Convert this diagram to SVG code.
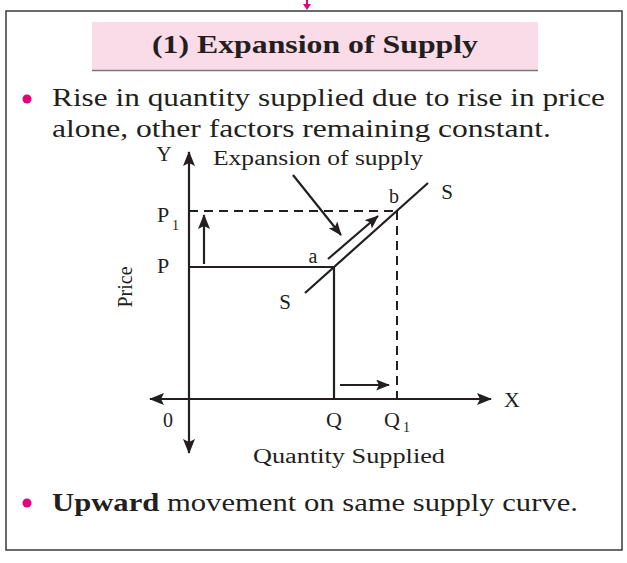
<svg xmlns="http://www.w3.org/2000/svg" width="627" height="563" viewBox="0 0 627 563">
<defs>
<style>
.t{font-family:"Liberation Serif","Times New Roman",serif;fill:#231f20}
.ln{stroke:#231f20;stroke-width:2.2;fill:none}
.ds{stroke:#231f20;stroke-width:2;fill:none;stroke-dasharray:9,6}
</style>
<marker id="ahb" viewBox="0 0 15 12" refX="14" refY="6" markerWidth="15" markerHeight="12" markerUnits="userSpaceOnUse" orient="auto">
<path d="M0,0 L15,6 L0,12 L3,6 z" fill="#231f20"/>
</marker>
<marker id="ahs" viewBox="0 0 15 12" refX="14" refY="6" markerWidth="14" markerHeight="11" markerUnits="userSpaceOnUse" orient="auto">
<path d="M0,0 L15,6 L0,12 L3,6 z" fill="#231f20"/>
</marker>
</defs>
<rect width="627" height="563" fill="#fff"/>
<path d="M307,0 L307,6" stroke="#e6007e" stroke-width="2"/>
<path d="M303,4 L307,10 L311,4 z" fill="#e6007e"/>
<rect x="6" y="11" width="616" height="539" fill="none" stroke="#3a3a3a" stroke-width="1.5"/>
<g id="title">
<rect x="92" y="22" width="446" height="48" fill="#fadce8"/>
<line x1="92" y1="70.5" x2="538" y2="70.5" stroke="#777" stroke-width="1.5"/>
<text class="t" x="315" y="53" font-size="25" font-weight="bold" text-anchor="middle" textLength="326" lengthAdjust="spacingAndGlyphs">(1) Expansion of Supply</text>
</g>
<g id="bullet1">
<circle cx="27" cy="99" r="4.5" fill="#e6007e"/>
<text class="t" x="52" y="106" font-size="26" textLength="553" lengthAdjust="spacingAndGlyphs">Rise in quantity supplied due to rise in price</text>
<text class="t" x="52" y="137" font-size="26" textLength="499" lengthAdjust="spacingAndGlyphs">alone, other factors remaining constant.</text>
</g>
<g id="connectors">
<line class="ln" x1="189" y1="400" x2="189" y2="152" marker-end="url(#ahb)"/>
<line class="ln" x1="189" y1="398" x2="189" y2="453" marker-end="url(#ahb)"/>
<line class="ln" x1="189" y1="399" x2="491" y2="399" marker-end="url(#ahb)"/>
<line class="ln" x1="191" y1="399" x2="150" y2="399" marker-end="url(#ahb)"/>
<line class="ds" x1="189" y1="211" x2="397" y2="211"/>
<line class="ds" x1="397" y1="211" x2="397" y2="399"/>
<line class="ln" x1="189" y1="267" x2="334" y2="267"/>
<line class="ln" x1="334" y1="267" x2="334" y2="399"/>
<line class="ln" x1="305" y1="293" x2="428" y2="183"/>
<line class="ln" x1="328" y1="259" x2="378" y2="216" marker-end="url(#ahs)"/>
<line class="ln" x1="293" y1="175" x2="341" y2="235" marker-end="url(#ahs)"/>
<line class="ln" x1="204" y1="264" x2="204" y2="215" marker-end="url(#ahb)"/>
<line class="ln" x1="340" y1="385" x2="389" y2="385" marker-end="url(#ahs)"/>
</g>
<g id="labels">
<text class="t" x="164" y="161" font-size="21" text-anchor="middle">Y</text>
<text class="t" x="213" y="165" font-size="20" textLength="210" lengthAdjust="spacingAndGlyphs">Expansion of supply</text>
<text class="t" x="157" y="222" font-size="22">P</text>
<text class="t" x="172" y="230" font-size="14">1</text>
<text class="t" x="157" y="273" font-size="22">P</text>
<text class="t" x="313" y="263" font-size="20" text-anchor="middle">a</text>
<text class="t" x="394" y="203" font-size="20" text-anchor="middle">b</text>
<text class="t" x="447" y="199" font-size="21" text-anchor="middle">S</text>
<text class="t" x="285" y="309" font-size="21" text-anchor="middle">S</text>
<text class="t" x="132" y="287" font-size="20" text-anchor="middle" transform="rotate(-90 132 287)">Price</text>
<text class="t" x="168" y="427" font-size="20" text-anchor="middle">0</text>
<text class="t" x="334" y="427" font-size="22" text-anchor="middle">Q</text>
<text class="t" x="392" y="427" font-size="22" text-anchor="middle">Q</text>
<text class="t" x="403" y="432" font-size="14">1</text>
<text class="t" x="512" y="407" font-size="22" text-anchor="middle">X</text>
<text class="t" x="349" y="463" font-size="20" text-anchor="middle" textLength="192" lengthAdjust="spacingAndGlyphs">Quantity Supplied</text>
</g>
<g id="bullet2">
<circle cx="27" cy="503" r="4.5" fill="#e6007e"/>
<text class="t" x="52" y="511" font-size="26" textLength="526" lengthAdjust="spacingAndGlyphs"><tspan font-weight="bold">Upward</tspan> movement on same supply curve.</text>
</g>
</svg>
